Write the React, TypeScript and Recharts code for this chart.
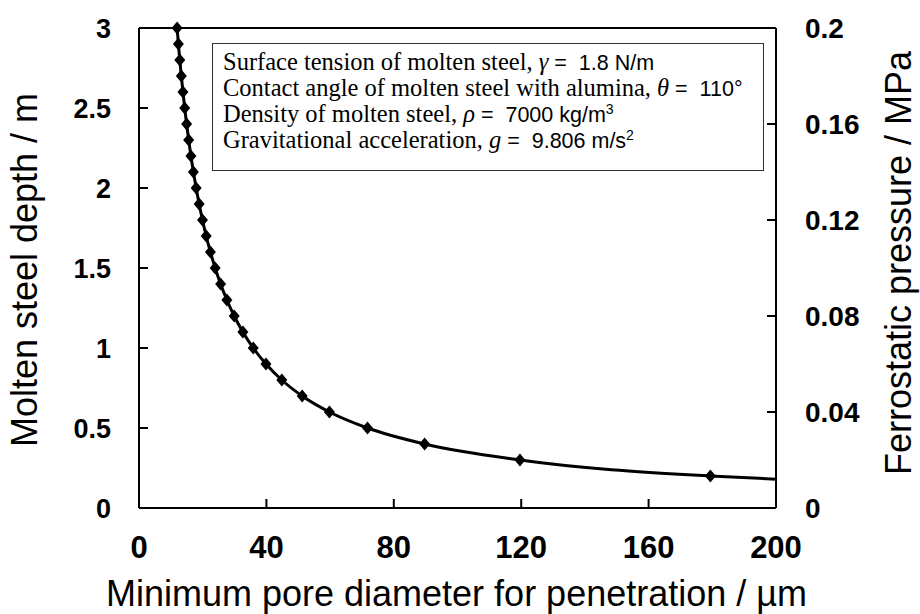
import React from 'react';
import { LineChart, Line, XAxis, YAxis, ReferenceLine, Label } from 'recharts';

// Marked points: molten steel depth (m) vs minimum pore diameter (µm)
const steelDepthM = [3.0, 2.9, 2.8, 2.7, 2.6, 2.5, 2.4, 2.3, 2.2, 2.1, 2.0, 1.9, 1.8, 1.7, 1.6, 1.5, 1.4, 1.3, 1.2, 1.1, 1.0, 0.9, 0.8, 0.7, 0.6, 0.5, 0.4, 0.3, 0.2];
const poreDiameterUm = [11.96, 12.37, 12.81, 13.29, 13.8, 14.35, 14.95, 15.6, 16.3, 17.08, 17.94, 18.88, 19.93, 21.1, 22.42, 23.91, 25.62, 27.59, 29.89, 32.61, 35.87, 39.86, 44.84, 51.24, 59.78, 71.74, 89.68, 119.6, 179.4];
// Unmarked end of the curve
const curveEndDiameterUm = [200];
const curveEndDepthM = [0.18];

const xTicks = [0, 40, 80, 120, 160, 200];
const depthTicks = [0, 0.5, 1, 1.5, 2, 2.5, 3];
const pressureTicks = [0, 0.04, 0.08, 0.12, 0.16, 0.2];

const data = [
  ...poreDiameterUm.map((d, i) => ({ d, h: steelDepthM[i], marker: true })),
  ...curveEndDiameterUm.map((d, i) => ({ d, h: curveEndDepthM[i], marker: false })),
].sort((a, b) => a.d - b.d);

const SANS = '"Liberation Sans", Arial, sans-serif';
const SERIF = '"Liberation Serif", "Times New Roman", serif';

const Diamond = (props: any) => {
  const { cx, cy, payload, index } = props;
  if (!payload || !payload.marker || cx == null || cy == null) return <g key={`d${index}`} />;
  return (
    <polygon
      key={`d${index}`}
      points={`${cx},${cy - 6.5} ${cx + 5.5},${cy} ${cx},${cy + 6.5} ${cx - 5.5},${cy}`}
      fill="#000"
    />
  );
};

const XTitle = (props: any) => {
  const vb = props.viewBox || { x: 139, y: 508, width: 637 };
  return (
    <text x={vb.x + vb.width / 2 - 1} y={606} textAnchor="middle" fontSize={36} fontFamily={SANS} fill="#000">
      Minimum pore diameter for penetration / µm
    </text>
  );
};

const LeftTitle = (props: any) => {
  const vb = props.viewBox || { x: 59, y: 28, height: 480 };
  const cy = vb.y + vb.height / 2 + 2;
  const x = 37;
  return (
    <text x={x} y={cy} transform={`rotate(-90, ${x}, ${cy})`} textAnchor="middle" fontSize={36} fontFamily={SANS} fill="#000">
      Molten steel depth / m
    </text>
  );
};

const RightTitle = (props: any) => {
  const vb = props.viewBox || { x: 776, y: 28, height: 480 };
  const cy = vb.y + vb.height / 2 - 5;
  const x = 911;
  return (
    <text x={x} y={cy} transform={`rotate(-90, ${x}, ${cy})`} textAnchor="middle" fontSize={36} fontFamily={SANS} fill="#000">
      Ferrostatic pressure / MPa
    </text>
  );
};

const lineStyle: React.CSSProperties = { height: 26, lineHeight: '26px', whiteSpace: 'pre' };
const serif: React.CSSProperties = { fontFamily: SERIF, fontSize: 24.5 };
const ital: React.CSSProperties = { fontFamily: SERIF, fontSize: 24.5, fontStyle: 'italic' };
const sans: React.CSSProperties = { fontFamily: SANS, fontSize: 21.5 };
const sup: React.CSSProperties = { fontSize: 14, verticalAlign: 'baseline', position: 'relative', top: -8 };

export default function App() {
  return (
    <div style={{ position: 'absolute', left: 0, top: 0, width: 920, height: 614, background: '#fff' }}>
      <LineChart
        width={920}
        height={614}
        data={data}
        margin={{ top: 28, right: 44, bottom: 56, left: 59 }}
        style={{ fontFamily: SANS }}
      >
        <XAxis
          dataKey="d"
          type="number"
          domain={[0, 200]}
          ticks={xTicks}
          height={50}
          axisLine={{ stroke: '#000', strokeWidth: 2 }}
          tickLine={{ stroke: '#000', strokeWidth: 2 }}
          tickSize={-9}
          tickMargin={37}
          tick={{ fill: '#000', fontSize: 31, fontWeight: 'bold', fontFamily: SANS }}
          interval={0}
        >
          <Label content={<XTitle />} />
        </XAxis>
        <YAxis
          yAxisId="h"
          type="number"
          domain={[0, 3]}
          ticks={depthTicks}
          width={80}
          axisLine={{ stroke: '#000', strokeWidth: 2 }}
          tickLine={{ stroke: '#000', strokeWidth: 2 }}
          tickSize={-9}
          tickMargin={37}
          tick={{ fill: '#000', fontSize: 27, fontWeight: 'bold', fontFamily: SANS }}
          interval={0}
        >
          <Label content={<LeftTitle />} />
        </YAxis>
        <YAxis
          yAxisId="p"
          orientation="right"
          type="number"
          domain={[0, 0.2]}
          allowDataOverflow
          ticks={pressureTicks}
          width={100}
          axisLine={{ stroke: '#000', strokeWidth: 2 }}
          tickLine={{ stroke: '#000', strokeWidth: 2 }}
          tickSize={-9}
          tickMargin={38}
          tick={{ fill: '#000', fontSize: 28, fontWeight: 'bold', fontFamily: SANS }}
          interval={0}
        >
          <Label content={<RightTitle />} />
        </YAxis>
        <ReferenceLine yAxisId="h" y={3} stroke="#000" strokeWidth={2} ifOverflow="visible" />
        <ReferenceLine yAxisId="p" y={0} stroke="#000" strokeWidth={2} ifOverflow="visible" />
        <Line
          yAxisId="p"
          dataKey="h"
          hide
          stroke="none"
          dot={false}
          activeDot={false}
          isAnimationActive={false}
        />
        <Line
          yAxisId="h"
          dataKey="h"
          type="monotone"
          stroke="#000"
          strokeWidth={3}
          dot={Diamond}
          activeDot={false}
          isAnimationActive={false}
        />
      </LineChart>
      <div
        style={{
          position: 'absolute',
          left: 212,
          top: 43,
          width: 552,
          height: 128,
          boxSizing: 'border-box',
          border: '1.5px solid #333',
          background: '#fff',
          paddingLeft: 10,
          paddingTop: 5,
          color: '#000',
        }}
      >
        <div style={lineStyle}>
          <span style={serif}>Surface tension of molten steel, </span>
          <span style={ital}>γ</span>
          <span style={sans}> =  1.8 N/m</span>
        </div>
        <div style={lineStyle}>
          <span style={serif}>Contact angle of molten steel with alumina, </span>
          <span style={ital}>θ</span>
          <span style={sans}> =  110°</span>
        </div>
        <div style={lineStyle}>
          <span style={serif}>Density of molten steel, </span>
          <span style={ital}>ρ</span>
          <span style={sans}> =  7000 kg/m<span style={sup}>3</span></span>
        </div>
        <div style={lineStyle}>
          <span style={serif}>Gravitational acceleration, </span>
          <span style={ital}>g</span>
          <span style={sans}> =  9.806 m/s<span style={sup}>2</span></span>
        </div>
      </div>
    </div>
  );
}
